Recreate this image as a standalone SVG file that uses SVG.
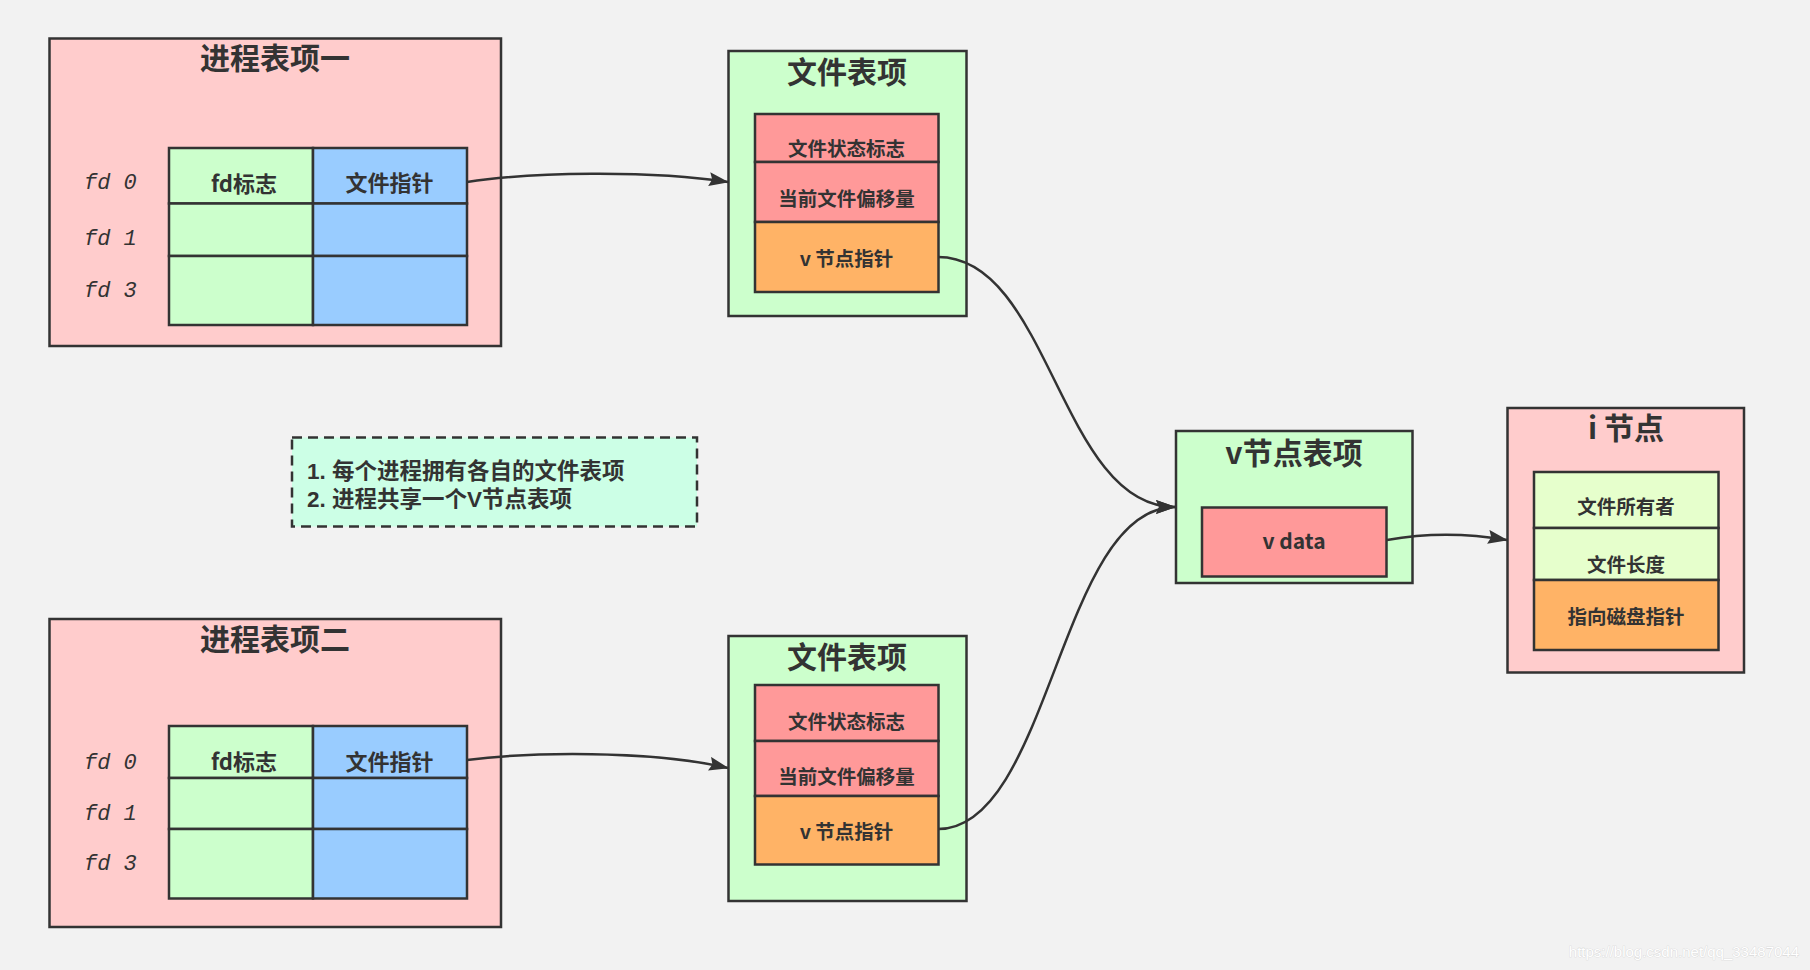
<svg xmlns="http://www.w3.org/2000/svg" width="1810" height="970" viewBox="0 0 1810 970">
<style>
.bx{stroke:#333333;stroke-width:2.5}
.pink{fill:#FFCCCC}
.green{fill:#CCFFCC}
.blue{fill:#99CCFF}
.salmon{fill:#FF9999}
.orange{fill:#FFB366}
.lime{fill:#E6FFCC}
.t{font-family:"Noto Sans CJK SC","Noto Sans",sans-serif;font-weight:bold;fill:#333333;text-anchor:middle}
.title{font-size:30px}
.cell{font-size:22px}
.row{font-size:19.5px}
.fd{font-family:"Liberation Mono","DejaVu Sans Mono",monospace;font-style:italic;font-size:22px;fill:#333333}
.note{font-family:"Liberation Sans","Noto Sans CJK SC",sans-serif;font-weight:bold;font-size:22.5px;fill:#333333}
.edge{fill:none;stroke:#333333;stroke-width:2.5}
</style>
<defs>
<marker id="arr" markerUnits="userSpaceOnUse" markerWidth="20" markerHeight="14" refX="19" refY="7" orient="auto">
<path d="M0,0 L20,7 L0,14 L3,7 z" fill="#333333"/>
</marker>
</defs>
<rect x="0" y="0" width="1810" height="970" fill="#F2F2F2"/>

<g id="proc1">
<rect class="bx pink" x="49.5" y="38.5" width="451.5" height="307.5"/>
<text class="t title" x="275" y="69">进程表项一</text>
<rect class="bx green" x="169" y="148" width="144" height="55.5"/>
<rect class="bx blue" x="313" y="148" width="154" height="55.5"/>
<rect class="bx green" x="169" y="203.5" width="144" height="52.5"/>
<rect class="bx blue" x="313" y="203.5" width="154" height="52.5"/>
<rect class="bx green" x="169" y="256" width="144" height="69"/>
<rect class="bx blue" x="313" y="256" width="154" height="69"/>
<text class="t cell" x="244" y="191.5">fd标志</text>
<text class="t cell" x="389.5" y="191">文件指针</text>
<text class="fd" x="84" y="189">fd 0</text>
<text class="fd" x="84" y="245">fd 1</text>
<text class="fd" x="84" y="297">fd 3</text>
</g>

<g id="proc2">
<rect class="bx pink" x="49.5" y="619" width="451.5" height="308"/>
<text class="t title" x="275" y="649.5">进程表项二</text>
<rect class="bx green" x="169" y="726" width="144" height="52"/>
<rect class="bx blue" x="313" y="726" width="154" height="52"/>
<rect class="bx green" x="169" y="778" width="144" height="51"/>
<rect class="bx blue" x="313" y="778" width="154" height="51"/>
<rect class="bx green" x="169" y="829" width="144" height="69.5"/>
<rect class="bx blue" x="313" y="829" width="154" height="69.5"/>
<text class="t cell" x="244" y="770">fd标志</text>
<text class="t cell" x="389.5" y="770">文件指针</text>
<text class="fd" x="84" y="768.5">fd 0</text>
<text class="fd" x="84" y="820">fd 1</text>
<text class="fd" x="84" y="870">fd 3</text>
</g>

<g id="file1">
<rect class="bx green" x="728.5" y="51" width="238" height="265"/>
<text class="t title" x="847" y="83">文件表项</text>
<rect class="bx salmon" x="755" y="114" width="183.5" height="48"/>
<rect class="bx salmon" x="755" y="162" width="183.5" height="60"/>
<rect class="bx orange" x="755" y="222" width="183.5" height="70"/>
<text class="t row" x="846.5" y="156">文件状态标志</text>
<text class="t row" x="846.5" y="205.5">当前文件偏移量</text>
<text class="t row" x="846.5" y="266">v 节点指针</text>
</g>

<g id="file2">
<rect class="bx green" x="728.5" y="636" width="238" height="265"/>
<text class="t title" x="847" y="668">文件表项</text>
<rect class="bx salmon" x="755" y="685" width="183.5" height="56"/>
<rect class="bx salmon" x="755" y="741" width="183.5" height="55"/>
<rect class="bx orange" x="755" y="796" width="183.5" height="68.5"/>
<text class="t row" x="846.5" y="729">文件状态标志</text>
<text class="t row" x="846.5" y="784">当前文件偏移量</text>
<text class="t row" x="846.5" y="839">v 节点指针</text>
</g>

<g id="note">
<rect x="292" y="437.5" width="405" height="89" fill="#CCFFE6" stroke="#333333" stroke-width="2.5" stroke-dasharray="10 6"/>
<text class="note" x="307" y="479">1. 每个进程拥有各自的文件表项</text>
<text class="note" x="307" y="507">2. 进程共享一个V节点表项</text>
</g>

<g id="vnode">
<rect class="bx green" x="1176" y="431" width="236.5" height="152"/>
<text class="t title" x="1294" y="464">v节点表项</text>
<rect class="bx salmon" x="1202" y="507.5" width="184.5" height="69"/>
<text class="t" style="font-size:21px" x="1294" y="549">v data</text>
</g>

<g id="inode">
<rect class="bx pink" x="1507.5" y="408" width="236.5" height="264.5"/>
<text class="t title" x="1626" y="439">i 节点</text>
<rect class="bx lime" x="1534" y="472" width="184.5" height="56"/>
<rect class="bx lime" x="1534" y="528" width="184.5" height="52"/>
<rect class="bx orange" x="1534" y="580" width="184.5" height="70"/>
<text class="t row" x="1626" y="514">文件所有者</text>
<text class="t row" x="1626" y="572">文件长度</text>
<text class="t row" x="1626" y="624">指向磁盘指针</text>
</g>

<g id="connectors">
<path class="edge" marker-end="url(#arr)" d="M467,182 C530,172 650,170 728,182"/>
<path class="edge" marker-end="url(#arr)" d="M467,760 C530,752 650,750 728,768"/>
<path class="edge" marker-end="url(#arr)" d="M938,257 C1050,257 1060,507 1175,507"/>
<path class="edge" marker-end="url(#arr)" d="M938,829 C1050,829 1060,507 1175,507"/>
<path class="edge" marker-end="url(#arr)" d="M1387,540 C1420,534 1460,532 1507,540"/>
</g>

<text x="1799" y="957" text-anchor="end" font-family="Liberation Sans, Arial, sans-serif" font-size="15" fill="#FFFFFF" stroke="#D0D0D0" stroke-width="0.6" paint-order="stroke">https://blog.csdn.net/qq_33487044</text>
</svg>
